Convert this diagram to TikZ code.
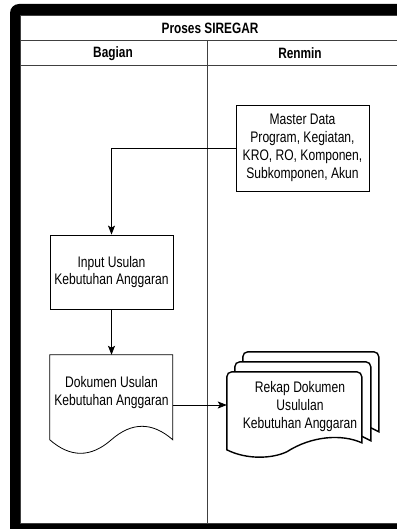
\documentclass[tikz,border=0pt]{standalone}
\usepackage{fontspec}
\setmainfont{Liberation Sans}[FakeStretch=0.79]
\usetikzlibrary{arrows.meta,calc}
\tikzset{
  lane/.style={draw=black!75, line width=1pt},
  hdr/.style={font=\bfseries\fontsize{15}{17}\selectfont},
  txt/.style={align=center, font=\fontsize{15.3}{17.8}\selectfont},
  box/.style={txt, draw, line width=0.8pt},
  flow/.style={line width=0.8pt, -{Stealth[length=9pt,width=7pt,inset=2pt]}},
  sheet/.style={draw, fill=white, line width=1.4pt},
}
\begin{document}
\begin{tikzpicture}[x=1pt,y=-1pt]
  \useasboundingbox (0,0) rectangle (396,529);
  \fill[black, rounded corners=9pt] (10,4) rectangle (430,560);
  \fill[white] (20,15) rectangle (400,523);

  \draw[lane] (20.5,15.5) rectangle (400,523);
  \draw[lane] (20.5,41) -- (400,41);
  \draw[lane] (20.5,66) -- (400,66);
  \draw[lane] (207,41) -- (207,523);
  \node[hdr] at (210,28.5)  (pool)   {Proses SIREGAR};
  \node[hdr] at (113,53.5)  (bagian) {Bagian};
  \node[hdr] at (300,53.5)  (renmin) {Renmin};

  \node[box, minimum width=133pt, minimum height=86pt] at (302.5,148) (master)
    {Master Data\\Program, Kegiatan,\\KRO, RO, Komponen,\\Subkomponen, Akun};
  \node[box, minimum width=123pt, minimum height=74pt] at (111.5,272) (input)
    {Input Usulan\\Kebutuhan Anggaran};

  \node[inner sep=0pt, minimum width=123pt, minimum height=100pt] at (111.5,405) (docu) {};
  \draw[line width=0.8pt, shift={(docu.north west)}]
    (0,0) -- (123,0) -- (123,85) .. controls (102.5,67) and (82,67) .. (61.5,85)
    .. controls (41,103) and (20.5,103) .. (0,85) -- cycle;
  \node[txt] at ($(docu.center)+(0,-12.5)$) (docutext) {Dokumen Usulan\\Kebutuhan Anggaran};

  \node[inner sep=0pt, minimum width=135pt, minimum height=85pt] at (294.5,414.5) (stack) {};
  \draw[sheet, shift={($(stack.north west)+(16,-20)$)}]
    (0,70) {[rounded corners=5pt] -- (0,0) -- (136,0) -- (136,40)} -- (136,80) -- (110,67) -- cycle;
  \draw[sheet, shift={($(stack.north west)+(8,-10)$)}]
    (0,70) {[rounded corners=5pt] -- (0,0) -- (136,0) -- (136,40)} -- (136,79) -- (110,66) -- cycle;
  \draw[sheet, shift={(stack.north west)}]
    (0,78) {[rounded corners=5pt] -- (0,0) -- (135,0) -- (135,40)} -- (135,71)
    .. controls (115,62) and (85,64) .. (60,80) .. controls (45,87) and (20,88) .. (0,78) -- cycle;
  \node[txt] at (300,406.5) (stacktext) {Rekap Dokumen\\Usululan\\Kebutuhan Anggaran};

  \draw[flow] (master.west) -| (input.north);
  \draw[flow] (input.south) -- (docu.north);
  \draw[flow] (docu.east) -- (docu.east -| stack.west);
\end{tikzpicture}
\end{document}
